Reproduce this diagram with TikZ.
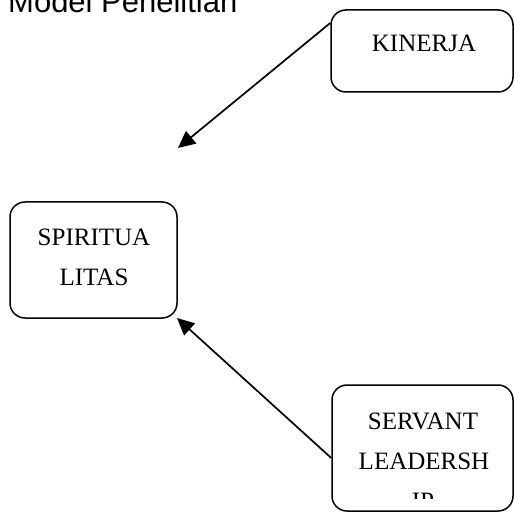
\documentclass[tikz,border=0pt]{standalone}
\usepackage{fontspec}
\setmainfont{Liberation Serif}
\newfontfamily\titlefont{Liberation Sans}
\usetikzlibrary{arrows.meta}
\begin{document}
\begin{tikzpicture}[x=1pt,y=-1pt,
  box/.style={draw, line width=1.5pt, rounded corners=15pt, inner sep=0pt},
  lbl/.style={anchor=base, inner sep=0pt, font=\fontsize{25}{25}\selectfont},
  conn/.style={line width=1.7pt, -{Triangle[length=17pt,width=16pt]}}]
\useasboundingbox (0,0) rectangle (514,513);
\node[anchor=base west, inner sep=0pt, font=\titlefont\fontsize{31}{31}\selectfont] (title) at (8,13) {Model Penelitian};
\node[box, minimum width=182pt, minimum height=82pt] (kin) at (422,51) {};
\node[box, minimum width=167pt, minimum height=116pt] (spi) at (93.5,260) {};
\node[box, minimum width=181pt, minimum height=126pt] (ser) at (422.5,448) {};
\node[lbl] (kint) at (424,52) {KINERJA};
\node[lbl] (spi1) at (94,246) {SPIRITUA};
\node[lbl] (spi2) at (94,285) {LITAS};
\node[lbl] (ser1) at (423,429) {SERVANT};
\node[lbl] (ser2) at (424,469) {LEADERSH};
\begin{scope}
\clip (332,385) rectangle (513,498);
\node[lbl] (ser3) at (423,509) {IP};
\end{scope}
\coordinate (k0) at (kin.west |- 0,23);
\coordinate (k1) at (178,148);
\coordinate (s0) at (ser.west |- 0,458);
\coordinate (s1) at (177,318);
\draw[conn] (k0) -- (k1);
\draw[conn] (s0) -- (s1);
\end{tikzpicture}
\end{document}
